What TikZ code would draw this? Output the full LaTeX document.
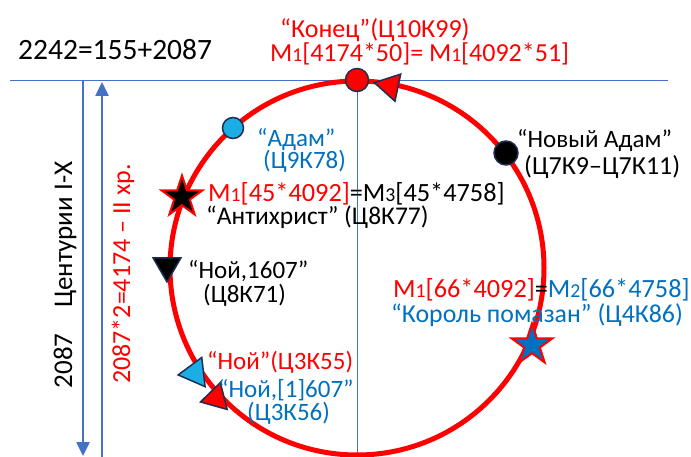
\documentclass[tikz,border=0pt]{standalone}
\usepackage{fontspec}
\usepackage{graphicx}
\setmainfont{Carlito}
\usetikzlibrary{shapes.geometric,arrows.meta}
\definecolor{myred}{HTML}{FF0000}
\definecolor{myblue}{HTML}{0070C0}
\definecolor{lineblue}{HTML}{4472C4}
\definecolor{lightblue}{HTML}{1CADE4}
\definecolor{navy}{HTML}{1F2F4F}
\newcommand{\ix}[1]{\scalebox{0.75}{#1}}
\tikzset{
  lbl/.style={anchor=base west, inner sep=0pt, font=\fontsize{25}{30}\selectfont},
  dotmark/.style={circle, draw=navy, line width=1.5pt, inner sep=0pt, minimum size=#1},
  trimark/.style={regular polygon, regular polygon sides=3, draw=navy, line width=1.5pt, inner sep=0pt, minimum size=32pt},
  starmark/.style={star, star points=5, star point ratio=2.6, draw=myred, line width=2pt, inner sep=0pt, minimum size=43pt},
  thinline/.style={lineblue, line width=1pt},
  thickline/.style={lineblue, line width=2.5pt},
}
\begin{document}
\begin{tikzpicture}[x=1pt,y=-1pt]
\useasboundingbox (0,0) rectangle (691,457);
% guide lines
\coordinate (hl) at (10,81);
\coordinate (hr) at (668,81);
\coordinate (vt) at (357,81);
\coordinate (vb) at (357,457);
\draw[thinline] (hl) -- (hr);
\draw[thinline] (vt) -- (vb);
% vertical arrows
\coordinate (a1t) at (83,81);
\coordinate (a1b) at (83,456);
\coordinate (a2b) at (102,457);
\coordinate (a2t) at (102,82);
\draw[thickline, -{Triangle[width=13pt,length=14pt]}] (a1t) -- (a1b);
\draw[thickline, -{Triangle[width=13pt,length=14pt]}] (a2b) -- (a2t);
% ring
\node[circle, draw=myred, line width=5pt, minimum size=374pt, inner sep=0pt] (ring) at (357,268) {};
% markers
\node[dotmark=23pt, fill=myred] (enddot) at (357,80) {};
\node[trimark, fill=myred, rotate=78] (endtri) at (390,86) {};
\node[dotmark=21pt, fill=lightblue] (adamdot) at (233,128) {};
\node[dotmark=24pt, fill=black] (newadam) at (506,153) {};
\node[starmark, fill=black] (antistar) at (182,197) {};
\node[trimark, fill=black, rotate=180] (noitri) at (167,266) {};
\node[trimark, fill=lightblue, rotate=-143.5, minimum size=34pt] (noibtri) at (195,373) {};
\node[trimark, fill=myred, rotate=-135.7] (noirtri) at (216,398) {};
\node[starmark, fill=myblue] (kingstar) at (532,345) {};
% texts
\node[lbl, font=\fontsize{29.5}{35}\selectfont] (t2242) at (18,60) {2242=155+2087};
\node[lbl, font=\fontsize{26}{31}\selectfont, text=myred] (tkon1) at (280,38) {“Конец”(Ц10К99)};
\node[lbl, font=\fontsize{26}{31}\selectfont, text=myred] (tkon2) at (270,62) {M\ix{1}[4174*50]= M\ix{1}[4092*51]};
\node[lbl, text=myblue] (tadam1) at (257,147) {“Адам”};
\node[lbl, text=myblue] (tadam2) at (263,169) {(Ц9К78)};
\node[lbl, font=\fontsize{26.3}{30}\selectfont] (tanti1) at (208,202) {\textcolor{myred}{M\ix{1}[45*4092]}=M\ix{3}[45*4758]};
\node[lbl, font=\fontsize{25.5}{30}\selectfont] (tanti2) at (206,225) {“Антихрист” (Ц8К77)};
\node[lbl] (tnoi1) at (188,279) {“Ной,1607”};
\node[lbl] (tnoi2) at (203,302) {(Ц8К71)};
\node[lbl] (tnew1) at (517,148) {“Новый Адам”};
\node[lbl, font=\fontsize{26}{30}\selectfont] (tnew2) at (524,175) {(Ц7К9–Ц7К11)};
\node[lbl, font=\fontsize{26.3}{30}\selectfont] (tking1) at (393,298) {\textcolor{myred}{M\ix{1}[66*4092]}=\textcolor{myblue}{M\ix{2}[66*4758]}};
\node[lbl, font=\fontsize{25.8}{30}\selectfont, text=myblue] (tking2) at (391,322) {“Король помазан” (Ц4К86)};
\node[lbl, text=myred] (tnoa1) at (207,369) {“Ной”(Ц3К55)};
\node[lbl, text=myblue] (tnoa2) at (218,397) {“Ной,[1]607”};
\node[lbl, text=myblue] (tnoa3) at (247,420) {(Ц3К56)};
\node[inner sep=0pt, rotate=90, font=\fontsize{27}{32}\selectfont] (tcent) at (65,275) {2087\hspace{0.95em}Центурии I-X};
\node[inner sep=0pt, rotate=90, font=\fontsize{26}{31}\selectfont, text=myred] (thr) at (123,274) {2087*2=4174 – II хр.};
\end{tikzpicture}
\end{document}
